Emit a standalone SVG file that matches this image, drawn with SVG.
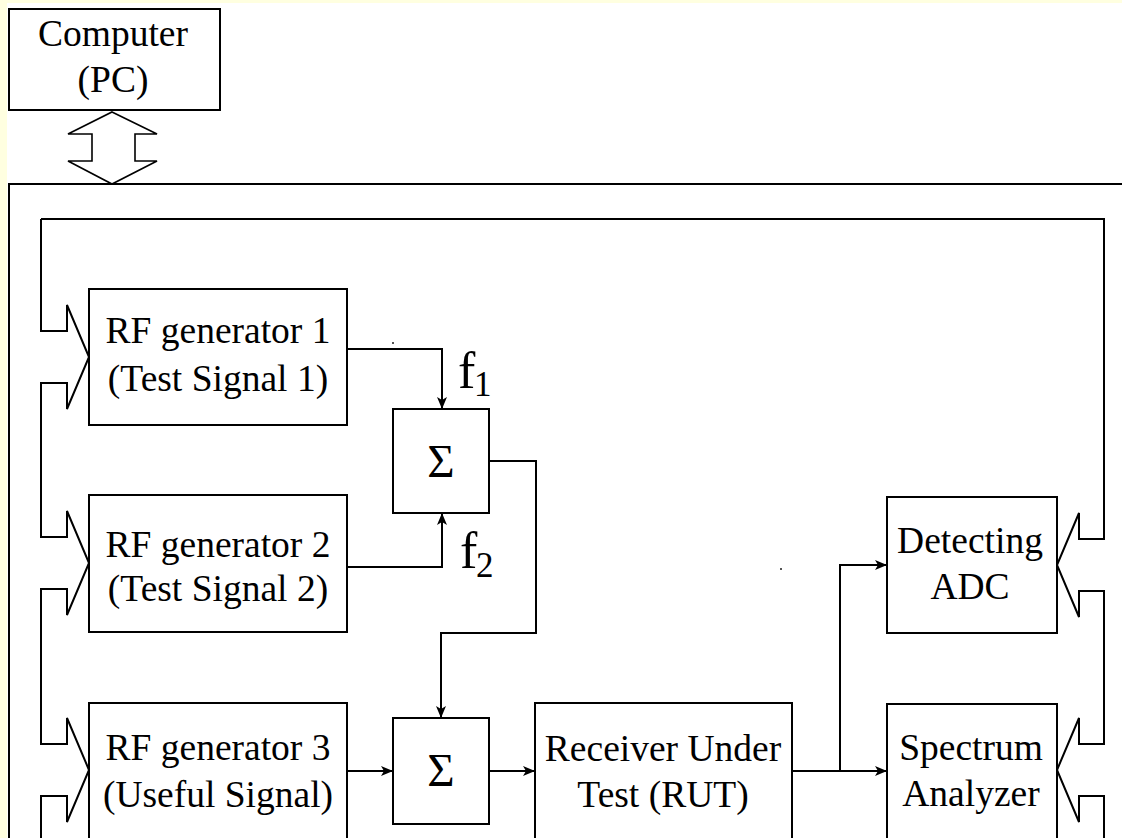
<svg xmlns="http://www.w3.org/2000/svg" width="1122" height="838" viewBox="0 0 1122 838">
<defs>
<style>
.box{fill:#fff;stroke:#000;stroke-width:2}
.ln{fill:none;stroke:#000;stroke-width:2}
.bus{fill:none;stroke:#000;stroke-width:2;stroke-linejoin:miter}
.t{font-family:"Liberation Serif","Times New Roman",serif;font-size:37.5px;fill:#000;text-anchor:middle}
.sig{font-family:"Liberation Serif","Times New Roman",serif;font-size:47px;fill:#000;text-anchor:middle}
.f{font-family:"Liberation Serif","Times New Roman",serif;font-size:52px;fill:#000}
.sub{font-family:"Liberation Serif","Times New Roman",serif;font-size:35px;fill:#000}
</style>
<marker id="ah" viewBox="0 0 12 10" refX="12" refY="5" markerWidth="12" markerHeight="10" markerUnits="userSpaceOnUse" orient="auto">
<path d="M0,0 L12,5 L0,10 L3,5 z" fill="#000"/>
</marker>
</defs>
<rect x="0" y="0" width="1122" height="838" fill="#fff"/>
<rect x="0" y="0" width="1122" height="3" fill="#ffffe0"/>
<rect x="0" y="0" width="7" height="838" fill="#ffffe0"/>

<g id="frame">
<path class="ln" d="M9,838 V184 H1122"/>
</g>

<g id="pc">
<rect class="box" x="9" y="9" width="211" height="101"/>
<text class="t" x="113" y="46">Computer</text>
<text class="t" x="113" y="92">(PC)</text>
</g>

<g id="pc-link">
<polygon points="112,112 157,134 135,134 135,161 157,161 112,184 68,161 92,161 92,134 68,134" fill="#fff" stroke="#000" stroke-width="1.6"/>
</g>

<g id="gen1">
<rect class="box" x="89" y="289" width="258" height="136"/>
<text class="t" x="218" y="343">RF generator 1</text>
<text class="t" x="218" y="391">(Test Signal 1)</text>
</g>
<g id="gen2">
<rect class="box" x="89" y="495" width="258" height="137"/>
<text class="t" x="218" y="557">RF generator 2</text>
<text class="t" x="218" y="601">(Test Signal 2)</text>
</g>
<g id="gen3">
<rect class="box" x="89" y="703" width="258" height="145"/>
<text class="t" x="218" y="760">RF generator 3</text>
<text class="t" x="218" y="807">(Useful Signal)</text>
</g>
<g id="sum1">
<rect class="box" x="393" y="409" width="96" height="104"/>
<text class="sig" x="441" y="477">Σ</text>
</g>
<g id="sum2">
<rect class="box" x="393" y="718" width="96" height="106"/>
<text class="sig" x="441" y="786">Σ</text>
</g>
<g id="rut">
<rect class="box" x="535" y="703" width="257" height="145"/>
<text class="t" x="663" y="761">Receiver Under</text>
<text class="t" x="663" y="807">Test (RUT)</text>
</g>
<g id="adc">
<rect class="box" x="887" y="497" width="170" height="136"/>
<text class="t" x="970" y="553">Detecting</text>
<text class="t" x="970" y="599">ADC</text>
</g>
<g id="sa">
<rect class="box" x="887" y="704" width="170" height="144"/>
<text class="t" x="971" y="760">Spectrum</text>
<text class="t" x="971" y="806">Analyzer</text>
</g>

<g id="connectors">
<path class="bus" d="M41,219 L41,331 L67,331 L67,305 L89,357 L67,409 L67,383 L41,383 L41,537 L67,537 L67,511 L89,563 L67,615 L67,589 L41,589 L41,744 L67,744 L67,718 L89,770 L67,822 L67,796 L41,796 L41,838"/>
<path class="bus" d="M41,219 L1104,219 L1104,539 L1079,539 L1079,513 L1057,565 L1079,617 L1079,591 L1104,591 L1104,744 L1079,744 L1079,718 L1057,770 L1079,822 L1079,796 L1104,796 L1104,838"/>
<path class="ln" d="M347,349 H442 V409" marker-end="url(#ah)"/>
<path class="ln" d="M347,567 H442 V513" marker-end="url(#ah)"/>
<path class="ln" d="M489,461 H536 V633 H441 V718" marker-end="url(#ah)"/>
<path class="ln" d="M347,771 H393" marker-end="url(#ah)"/>
<path class="ln" d="M489,771 H535" marker-end="url(#ah)"/>
<path class="ln" d="M792,771 H887" marker-end="url(#ah)"/>
<path class="ln" d="M840,771 V565 H887" marker-end="url(#ah)"/>
<text class="f" x="458" y="388">f</text>
<text class="sub" x="474" y="396">1</text>
<text class="f" x="460" y="568">f</text>
<text class="sub" x="476" y="577">2</text>
<rect x="392" y="342" width="2" height="2" fill="#555"/>
<rect x="780" y="568" width="2" height="2" fill="#555"/>
</g>
</svg>
